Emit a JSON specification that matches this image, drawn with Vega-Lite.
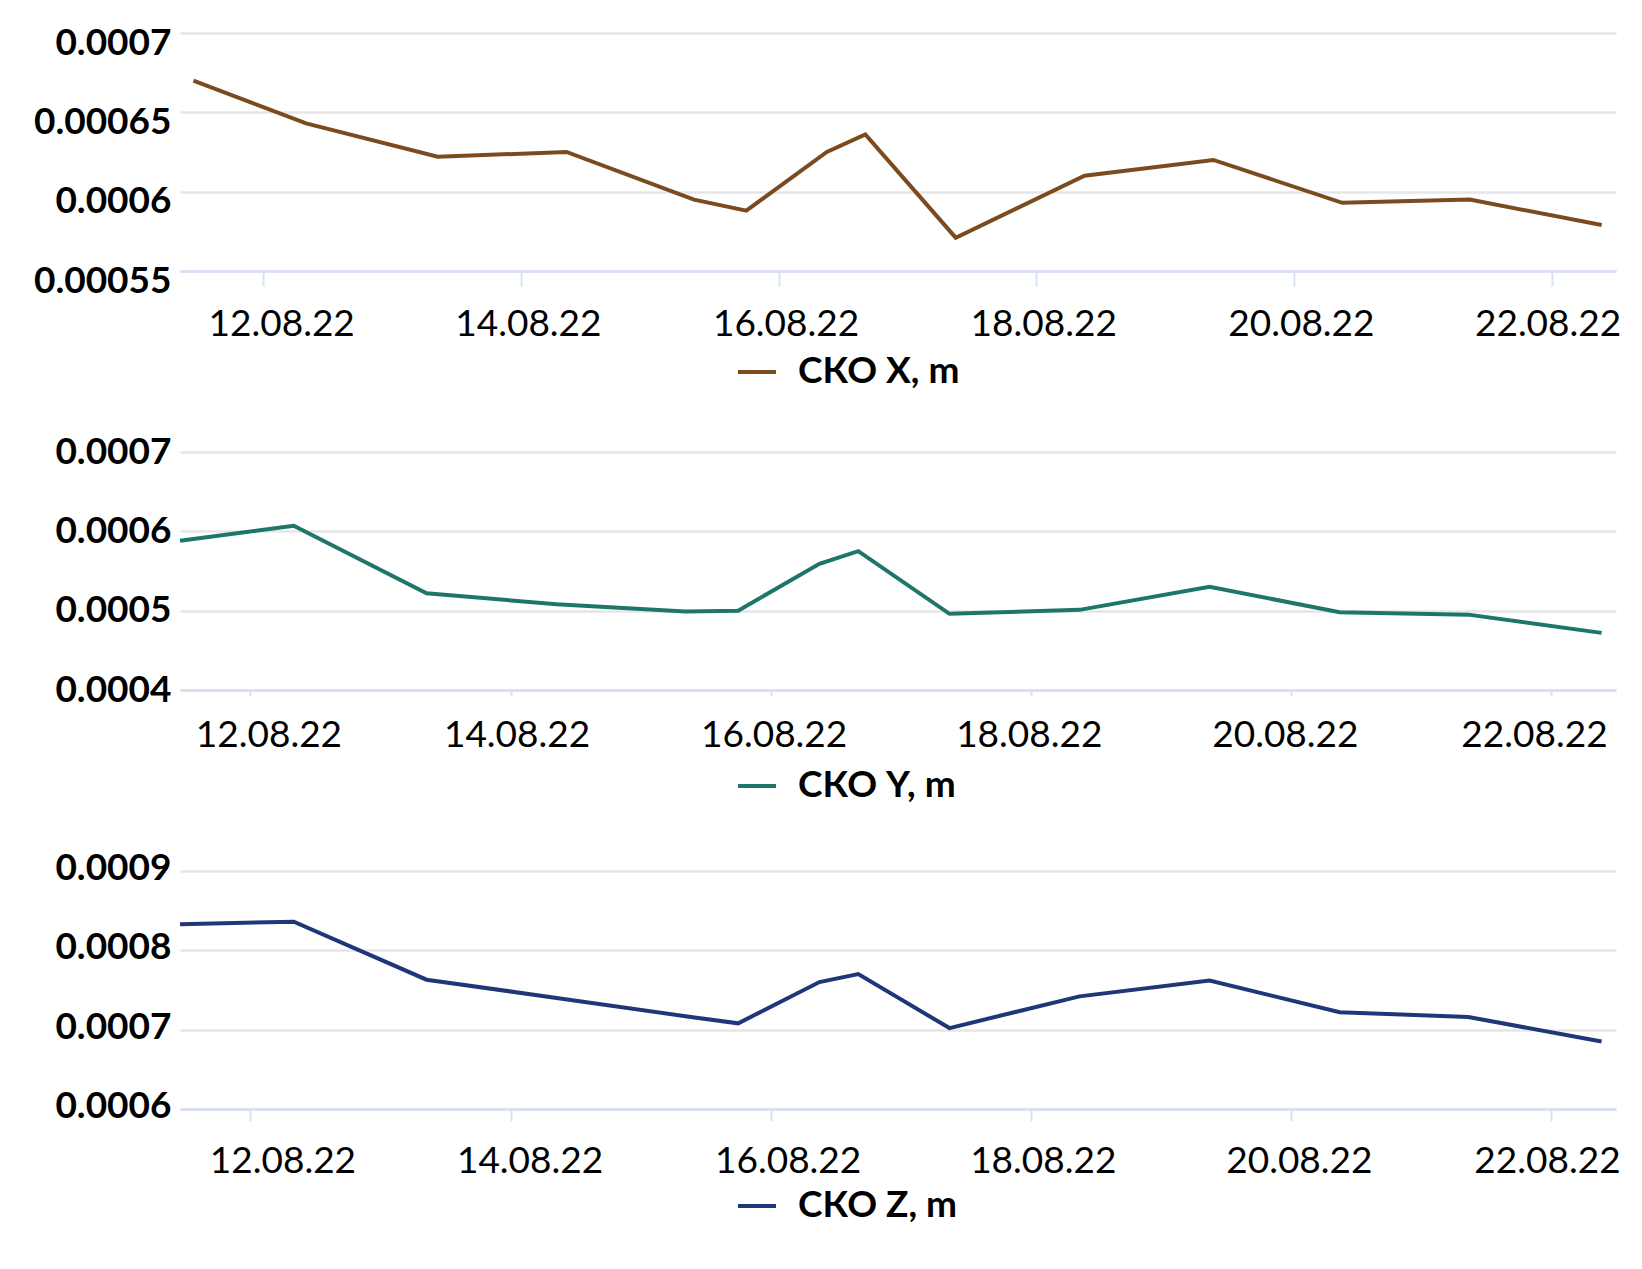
{
  "$schema": "https://vega.github.io/schema/vega-lite/v6.json",
  "background": "white",
  "padding": {"left": 33, "top": 24, "right": 10, "bottom": 10},
  "spacing": 181,
  "bounds": "flush",
  "config": {
    "font": "Lato",
    "view": {"stroke": null},
    "axisX": {
      "grid": false,
      "domainColor": "#d9e1f2",
      "domainWidth": 3,
      "tickColor": "#d9e1f2",
      "tickWidth": 2,
      "labelFont": "Lato",
      "labelFontSize": 37,
      "labelColor": "#000000",
      "labelFlush": false,
      "labelOverlap": false,
      "format": "%d.%m.%y",
      "title": null
    },
    "axisY": {
      "domain": false,
      "ticks": false,
      "grid": true,
      "gridColor": "#e6e6e6",
      "gridWidth": 2.5,
      "labelFont": "Lato",
      "labelFontSize": 37,
      "labelFontWeight": "bold",
      "labelColor": "#000000",
      "labelPadding": 9,
      "labelOverlap": false,
      "format": ".5~f",
      "title": null
    },
    "legend": {
      "orient": "none",
      "title": null,
      "symbolType": "stroke",
      "symbolSize": 1444,
      "symbolStrokeWidth": 4,
      "labelFont": "Lato",
      "labelFontSize": 37,
      "labelFontWeight": "bold",
      "labelColor": "#000000",
      "labelOffset": 20,
      "labelLimit": 400,
      "padding": 0
    }
  },
  "resolve": {
    "scale": {"color": "independent", "x": "independent", "y": "independent"},
    "legend": {"color": "independent"}
  },
  "vconcat": [
    {
      "width": 1436,
      "height": 238,
      "data": {"values": [
        {"date": "2022-08-11T11:00:00", "series": "СКО X, m", "value": 0.000670},
        {"date": "2022-08-12T08:00:00", "series": "СКО X, m", "value": 0.000643},
        {"date": "2022-08-13T08:30:00", "series": "СКО X, m", "value": 0.000622},
        {"date": "2022-08-14T08:30:00", "series": "СКО X, m", "value": 0.000625},
        {"date": "2022-08-15T08:15:00", "series": "СКО X, m", "value": 0.000595},
        {"date": "2022-08-15T18:00:00", "series": "СКО X, m", "value": 0.000588},
        {"date": "2022-08-16T09:00:00", "series": "СКО X, m", "value": 0.000625},
        {"date": "2022-08-16T16:10:00", "series": "СКО X, m", "value": 0.000636},
        {"date": "2022-08-17T09:00:00", "series": "СКО X, m", "value": 0.000571},
        {"date": "2022-08-18T09:00:00", "series": "СКО X, m", "value": 0.000610},
        {"date": "2022-08-19T09:00:00", "series": "СКО X, m", "value": 0.000620},
        {"date": "2022-08-20T09:00:00", "series": "СКО X, m", "value": 0.000593},
        {"date": "2022-08-21T08:45:00", "series": "СКО X, m", "value": 0.000595},
        {"date": "2022-08-22T09:20:00", "series": "СКО X, m", "value": 0.000579}
      ]},
      "mark": {"type": "line", "strokeWidth": 4},
      "encoding": {
        "x": {
          "field": "date", "type": "temporal",
          "scale": {"domain": [{"year": 2022, "month": 8, "date": 11, "hours": 8, "minutes": 30}, {"year": 2022, "month": 8, "date": 22, "hours": 12}]},
          "axis": {
            "values": [{"year": 2022, "month": 8, "date": 12}, {"year": 2022, "month": 8, "date": 14}, {"year": 2022, "month": 8, "date": 16}, {"year": 2022, "month": 8, "date": 18}, {"year": 2022, "month": 8, "date": 20}, {"year": 2022, "month": 8, "date": 22}],
            "tickSize": 15,
            "labelPadding": 20,
            "labelOffset": {"condition": [{"test": "date(datum.value) == 12", "value": 18}, {"test": "date(datum.value) == 22", "value": -4}], "value": 7}
          }
        },
        "y": {
          "field": "value", "type": "quantitative",
          "scale": {"domain": [0.00055, 0.0007], "zero": false, "nice": false},
          "axis": {"values": [0.00055, 0.0006, 0.00065, 0.0007], "labelOffset": 10}
        },
        "color": {
          "field": "series", "type": "nominal",
          "scale": {"range": ["#7b4b1f"]},
          "legend": {"legendX": 556, "legendY": 318}
        }
      }
    },
    {
      "width": 1436,
      "height": 238,
      "data": {"values": [
        {"date": "2022-08-11T11:00:00", "series": "СКО Y, m", "value": 0.000588},
        {"date": "2022-08-12T08:00:00", "series": "СКО Y, m", "value": 0.000607},
        {"date": "2022-08-13T08:30:00", "series": "СКО Y, m", "value": 0.000522},
        {"date": "2022-08-14T08:30:00", "series": "СКО Y, m", "value": 0.000508},
        {"date": "2022-08-15T08:15:00", "series": "СКО Y, m", "value": 0.000499},
        {"date": "2022-08-15T18:00:00", "series": "СКО Y, m", "value": 0.000500},
        {"date": "2022-08-16T09:00:00", "series": "СКО Y, m", "value": 0.000559},
        {"date": "2022-08-16T16:10:00", "series": "СКО Y, m", "value": 0.000575},
        {"date": "2022-08-17T09:00:00", "series": "СКО Y, m", "value": 0.000496},
        {"date": "2022-08-18T09:00:00", "series": "СКО Y, m", "value": 0.000501},
        {"date": "2022-08-19T09:00:00", "series": "СКО Y, m", "value": 0.000530},
        {"date": "2022-08-20T09:00:00", "series": "СКО Y, m", "value": 0.000498},
        {"date": "2022-08-21T08:45:00", "series": "СКО Y, m", "value": 0.000495},
        {"date": "2022-08-22T09:20:00", "series": "СКО Y, m", "value": 0.000472}
      ]},
      "mark": {"type": "line", "strokeWidth": 4},
      "encoding": {
        "x": {
          "field": "date", "type": "temporal",
          "scale": {"domain": [{"year": 2022, "month": 8, "date": 11, "hours": 11}, {"year": 2022, "month": 8, "date": 22, "hours": 12}]},
          "axis": {
            "values": [{"year": 2022, "month": 8, "date": 12}, {"year": 2022, "month": 8, "date": 14}, {"year": 2022, "month": 8, "date": 16}, {"year": 2022, "month": 8, "date": 18}, {"year": 2022, "month": 8, "date": 20}, {"year": 2022, "month": 8, "date": 22}],
            "tickSize": 6,
            "labelPadding": 21,
            "labelOffset": {"condition": [{"test": "date(datum.value) == 12", "value": 18}, {"test": "date(datum.value) == 14", "value": 6}, {"test": "date(datum.value) == 16", "value": 3}, {"test": "date(datum.value) == 18", "value": -2}, {"test": "date(datum.value) == 20", "value": -6}], "value": -17}
          }
        },
        "y": {
          "field": "value", "type": "quantitative",
          "scale": {"domain": [0.0004, 0.0007], "zero": false, "nice": false},
          "axis": {"values": [0.0004, 0.0005, 0.0006, 0.0007], "labelOffset": 0}
        },
        "color": {
          "field": "series", "type": "nominal",
          "scale": {"range": ["#1e7669"]},
          "legend": {"legendX": 556, "legendY": 313}
        }
      }
    },
    {
      "width": 1436,
      "height": 238,
      "data": {"values": [
        {"date": "2022-08-11T11:00:00", "series": "СКО Z, m", "value": 0.000833},
        {"date": "2022-08-12T08:00:00", "series": "СКО Z, m", "value": 0.000836},
        {"date": "2022-08-13T08:30:00", "series": "СКО Z, m", "value": 0.000763},
        {"date": "2022-08-14T08:30:00", "series": "СКО Z, m", "value": 0.000740},
        {"date": "2022-08-15T08:15:00", "series": "СКО Z, m", "value": 0.000717},
        {"date": "2022-08-15T18:00:00", "series": "СКО Z, m", "value": 0.000708},
        {"date": "2022-08-16T09:00:00", "series": "СКО Z, m", "value": 0.000760},
        {"date": "2022-08-16T16:10:00", "series": "СКО Z, m", "value": 0.000770},
        {"date": "2022-08-17T09:00:00", "series": "СКО Z, m", "value": 0.000702},
        {"date": "2022-08-18T09:00:00", "series": "СКО Z, m", "value": 0.000742},
        {"date": "2022-08-19T09:00:00", "series": "СКО Z, m", "value": 0.000762},
        {"date": "2022-08-20T09:00:00", "series": "СКО Z, m", "value": 0.000722},
        {"date": "2022-08-21T08:45:00", "series": "СКО Z, m", "value": 0.000716},
        {"date": "2022-08-22T09:20:00", "series": "СКО Z, m", "value": 0.000685}
      ]},
      "mark": {"type": "line", "strokeWidth": 4},
      "encoding": {
        "x": {
          "field": "date", "type": "temporal",
          "scale": {"domain": [{"year": 2022, "month": 8, "date": 11, "hours": 11}, {"year": 2022, "month": 8, "date": 22, "hours": 12}]},
          "axis": {
            "values": [{"year": 2022, "month": 8, "date": 12}, {"year": 2022, "month": 8, "date": 14}, {"year": 2022, "month": 8, "date": 16}, {"year": 2022, "month": 8, "date": 18}, {"year": 2022, "month": 8, "date": 20}, {"year": 2022, "month": 8, "date": 22}],
            "tickSize": 12,
            "labelPadding": 22,
            "labelOffset": {"condition": [{"test": "date(datum.value) == 12", "value": 32}, {"test": "date(datum.value) == 14", "value": 19}, {"test": "date(datum.value) == 16", "value": 17}, {"test": "date(datum.value) == 18", "value": 12}, {"test": "date(datum.value) == 20", "value": 8}], "value": -4}
          }
        },
        "y": {
          "field": "value", "type": "quantitative",
          "scale": {"domain": [0.0006, 0.0009], "zero": false, "nice": false},
          "axis": {"values": [0.0006, 0.0007, 0.0008, 0.0009], "labelOffset": -2.5}
        },
        "color": {
          "field": "series", "type": "nominal",
          "scale": {"range": ["#1f3778"]},
          "legend": {"legendX": 556, "legendY": 314}
        }
      }
    }
  ]
}
